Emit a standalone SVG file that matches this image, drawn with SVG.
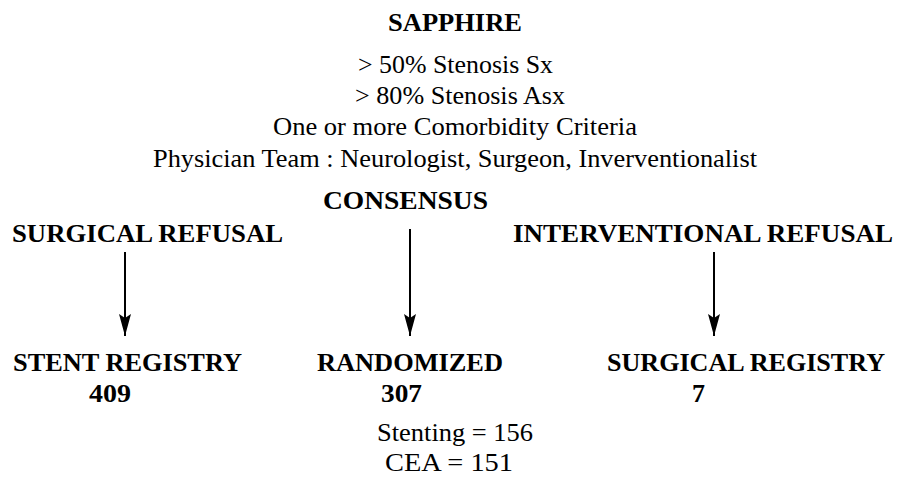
<svg xmlns="http://www.w3.org/2000/svg" width="909" height="482" viewBox="0 0 909 482">
  <style>
    text { font-family: "Liberation Serif", "DejaVu Serif", serif; fill: #000; }
    .b { font-weight: bold; font-size: 26px; }
    .r { font-size: 25px; }
    .arrow { stroke: #000; stroke-width: 2; fill: none; }
  </style>
  <defs>
    <marker id="ah" viewBox="0 0 22 12" refX="22" refY="6" markerWidth="22" markerHeight="12" markerUnits="userSpaceOnUse" orient="auto">
      <path d="M0,0 L22,6 L0,12 L4,6 Z" fill="#000"/>
    </marker>
  </defs>
  <rect width="909" height="482" fill="#fff"/>

  <g id="sapphire">
    <text class="b" x="388" y="31" textLength="134" lengthAdjust="spacingAndGlyphs">SAPPHIRE</text>
    <text class="r" x="358" y="73" textLength="195" lengthAdjust="spacingAndGlyphs">&gt; 50% Stenosis Sx</text>
    <text class="r" x="355" y="104" textLength="210" lengthAdjust="spacingAndGlyphs">&gt; 80% Stenosis Asx</text>
    <text class="r" x="273" y="135" textLength="364" lengthAdjust="spacingAndGlyphs">One or more Comorbidity Criteria</text>
    <text class="r" x="153" y="167" textLength="604" lengthAdjust="spacingAndGlyphs">Physician Team : Neurologist, Surgeon, Inverventionalist</text>
  </g>

  <g id="consensus">
    <text class="b" x="323" y="209" textLength="165" lengthAdjust="spacingAndGlyphs">CONSENSUS</text>
  </g>
  <g id="surgical-refusal">
    <text class="b" x="12" y="242" textLength="271" lengthAdjust="spacingAndGlyphs">SURGICAL REFUSAL</text>
  </g>
  <g id="interventional-refusal">
    <text class="b" x="513" y="242" textLength="380" lengthAdjust="spacingAndGlyphs">INTERVENTIONAL REFUSAL</text>
  </g>

  <g id="stent-registry">
    <text class="b" x="13" y="371" textLength="229" lengthAdjust="spacingAndGlyphs">STENT REGISTRY</text>
    <text class="b" x="89" y="402" textLength="42" lengthAdjust="spacingAndGlyphs">409</text>
  </g>
  <g id="randomized">
    <text class="b" x="317" y="371" textLength="186" lengthAdjust="spacingAndGlyphs">RANDOMIZED</text>
    <text class="b" x="381" y="402" textLength="41" lengthAdjust="spacingAndGlyphs">307</text>
    <text class="r" x="377" y="441" textLength="156" lengthAdjust="spacingAndGlyphs">Stenting = 156</text>
    <text class="r" x="385" y="471" textLength="128" lengthAdjust="spacingAndGlyphs">CEA = 151</text>
  </g>
  <g id="surgical-registry">
    <text class="b" x="607" y="371" textLength="278" lengthAdjust="spacingAndGlyphs">SURGICAL REGISTRY</text>
    <text class="b" x="692" y="402" textLength="13" lengthAdjust="spacingAndGlyphs">7</text>
  </g>

  <g id="connectors">
    <line class="arrow" x1="125" y1="252" x2="125" y2="336" marker-end="url(#ah)"/>
    <line class="arrow" x1="410" y1="229" x2="410" y2="336" marker-end="url(#ah)"/>
    <line class="arrow" x1="714" y1="252" x2="714" y2="336" marker-end="url(#ah)"/>
  </g>
</svg>
